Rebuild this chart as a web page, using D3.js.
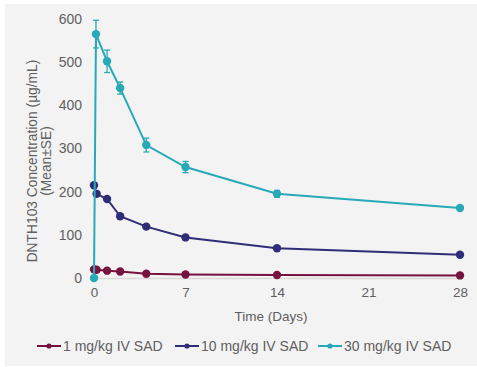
<!DOCTYPE html>
<html>
<head>
<meta charset="utf-8">
<script src="https://cdn.jsdelivr.net/npm/d3@7"></script>
<style>
  html, body { margin: 0; padding: 0; background: #fff; }
  svg { display: block; font-family: "Liberation Sans", Arial, sans-serif; }
</style>
</head>
<body>
<div id="chart"></div>
<script>
// data
const xTicks = [0, 7, 14, 21, 28];
const yTicks = [0, 100, 200, 300, 400, 500, 600];
const seriesNames = ['1 mg/kg IV SAD', '10 mg/kg IV SAD', '30 mg/kg IV SAD'];
const seriesColors = ['#76123f', '#302d77', '#27a9b8'];

const days1 = [0, 0.2, 1, 2, 4, 7, 14, 28];
const conc1 = [20, 19, 17, 15, 10, 8, 7, 6];
const err1 = [0, 0, 0, 0, 0, 0, 0, 0];

const days10 = [0, 0.2, 1, 2, 4, 7, 14, 28];
const conc10 = [215, 195, 183, 143, 119, 94, 69, 54];
const err10 = [0, 0, 0, 0, 0, 0, 0, 0];

const days30 = [0, 0.15, 1, 2, 4, 7, 14, 28];
const conc30 = [0, 565, 502, 440, 308, 257, 195, 162];
const err30 = [0, 32, 26, 14, 16, 13, 8, 3];

const width = 477, height = 367;
const margin = {top: 19, right: 17, bottom: 89, left: 94};

const series = [
  {name: seriesNames[0], color: seriesColors[0], pts: days1.map((d, i) => ({t: d, v: conc1[i], e: err1[i]}))},
  {name: seriesNames[1], color: seriesColors[1], pts: days10.map((d, i) => ({t: d, v: conc10[i], e: err10[i]}))},
  {name: seriesNames[2], color: seriesColors[2], pts: days30.map((d, i) => ({t: d, v: conc30[i], e: err30[i]}))}
];

const svg = d3.select('#chart').append('svg')
  .attr('width', width).attr('height', height);

// grey panel with white strip on top/left
svg.append('rect')
  .attr('x', 5).attr('y', 4)
  .attr('width', width - 5).attr('height', height - 5)
  .attr('fill', '#f3f3f3');

const x = d3.scaleLinear().domain([0, 28]).range([margin.left, width - margin.right]);
const y = d3.scaleLinear().domain([0, 600]).range([height - margin.bottom, margin.top]);

// x axis
const axisX = svg.append('g')
  .attr('transform', 'translate(0,' + y(0) + ')')
  .call(d3.axisBottom(x).tickValues(xTicks).tickSize(0).tickPadding(9));
axisX.select('path').attr('stroke', '#d9d9d9').attr('stroke-width', 1.5);
axisX.selectAll('.tick text')
  .attr('font-size', '13.5px').attr('fill', '#5f5f5f')
  .attr('font-family', '"Liberation Sans", Arial, sans-serif');

// y axis
const axisY = svg.append('g')
  .attr('transform', 'translate(' + (x(0) - 12) + ',0)')
  .call(d3.axisLeft(y).tickValues(yTicks).tickSize(0).tickPadding(0));
axisY.select('path').remove();
axisY.selectAll('.tick text')
  .attr('font-size', '14px').attr('fill', '#5f5f5f')
  .attr('font-family', '"Liberation Sans", Arial, sans-serif');

// axis titles
svg.append('text')
  .attr('x', (x(0) + x(28)) / 2 - 6).attr('y', 321)
  .attr('text-anchor', 'middle')
  .attr('font-size', '13.5px').attr('fill', '#5f5f5f')
  .text('Time (Days)');

const yTitle = svg.append('text')
  .attr('transform', 'translate(37,' + 161 + ') rotate(-90)')
  .attr('text-anchor', 'middle')
  .attr('font-size', '13.8px').attr('fill', '#5f5f5f');
yTitle.append('tspan').attr('x', 0).attr('dy', 0).text('DNTH103 Concentration (µg/mL)');
yTitle.append('tspan').attr('x', 0).attr('dy', 14).text('(Mean±SE)');

const line = d3.line().x(d => x(d.t)).y(d => y(d.v));

const g = svg.append('g');
series.forEach(s => {
  const sg = g.append('g');
  sg.append('path')
    .datum(s.pts)
    .attr('d', line)
    .attr('fill', 'none')
    .attr('stroke', s.color)
    .attr('stroke-width', 2);

  const eb = sg.selectAll('.err').data(s.pts.filter(d => d.e > 4)).enter().append('g');
  eb.append('line')
    .attr('x1', d => x(d.t)).attr('x2', d => x(d.t))
    .attr('y1', d => y(d.v - d.e)).attr('y2', d => y(d.v + d.e))
    .attr('stroke', s.color).attr('stroke-width', 1.3);
  [-1, 1].forEach(k => {
    eb.append('line')
      .attr('x1', d => x(d.t) - 3).attr('x2', d => x(d.t) + 3)
      .attr('y1', d => y(d.v + k * d.e)).attr('y2', d => y(d.v + k * d.e))
      .attr('stroke', s.color).attr('stroke-width', 1.3);
  });

  sg.selectAll('circle').data(s.pts).enter().append('circle')
    .attr('cx', d => x(d.t)).attr('cy', d => y(d.v))
    .attr('r', 4.2)
    .attr('fill', s.color);
});

// legend
const legendX = [37, 175, 318];
const legend = svg.append('g').attr('transform', 'translate(0,346)');
series.forEach((s, i) => {
  const lg = legend.append('g').attr('transform', 'translate(' + legendX[i] + ',0)');
  lg.append('line').attr('x1', 0).attr('x2', 24).attr('y1', 0).attr('y2', 0)
    .attr('stroke', s.color).attr('stroke-width', 2);
  lg.append('circle').attr('cx', 12).attr('cy', 0).attr('r', 2.6).attr('fill', s.color);
  lg.append('text').attr('x', 26).attr('y', 5)
    .attr('font-size', '14px').attr('fill', '#5f5f5f')
    .text(s.name);
});
</script>
</body>
</html>
